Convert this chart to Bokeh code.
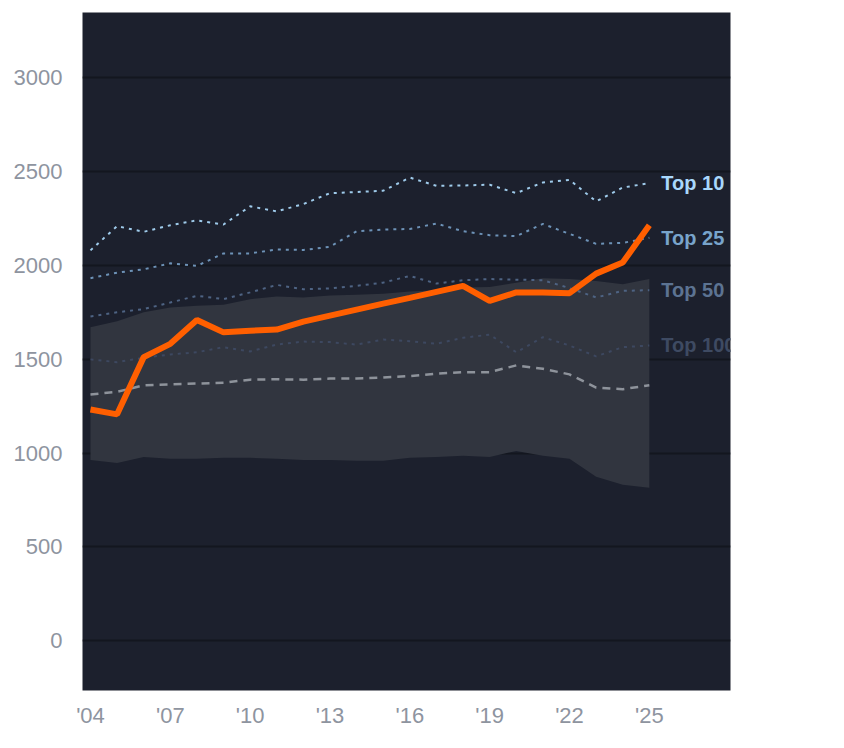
from bokeh.plotting import figure
from bokeh.models import FixedTicker, Label, Range1d
from bokeh.embed import file_html
from bokeh.resources import INLINE

years = list(range(2004, 2026))
main = [1233, 1207, 1512, 1583, 1710, 1644, 1653, 1659, 1701, 1733, 1765, 1797, 1828, 1860, 1892, 1812, 1857, 1857, 1853, 1957, 2016, 2215]
top10 = [2081, 2210, 2180, 2215, 2241, 2219, 2316, 2289, 2328, 2386, 2392, 2399, 2469, 2425, 2427, 2431, 2386, 2443, 2457, 2342, 2416, 2439]
top25 = [1933, 1962, 1980, 2012, 1998, 2065, 2065, 2086, 2083, 2100, 2183, 2192, 2195, 2224, 2183, 2162, 2157, 2222, 2169, 2116, 2121, 2148]
top50 = [1729, 1751, 1768, 1803, 1839, 1821, 1857, 1897, 1874, 1878, 1892, 1909, 1945, 1904, 1922, 1928, 1925, 1922, 1880, 1830, 1865, 1869]
top100 = [1500, 1485, 1509, 1526, 1538, 1565, 1542, 1579, 1595, 1592, 1579, 1606, 1597, 1583, 1615, 1632, 1538, 1618, 1574, 1516, 1565, 1574]
median = [1313, 1327, 1362, 1367, 1371, 1376, 1392, 1394, 1392, 1398, 1398, 1403, 1411, 1424, 1432, 1432, 1468, 1450, 1420, 1350, 1341, 1362]
band_hi = [1671, 1703, 1751, 1777, 1786, 1791, 1821, 1835, 1830, 1840, 1845, 1850, 1862, 1868, 1883, 1886, 1909, 1933, 1928, 1918, 1901, 1928]
band_lo = [964, 948, 980, 970, 970, 975, 975, 970, 964, 964, 959, 959, 975, 980, 986, 980, 1012, 986, 970, 874, 832, 816]
x_ticks = [2004, 2007, 2010, 2013, 2016, 2019, 2022, 2025]
y_ticks = [0, 500, 1000, 1500, 2000, 2500, 3000]

p = figure(width=800, height=730, output_backend="svg", toolbar_location=None,
           x_range=Range1d(2003.7, 2028.05), y_range=Range1d(-265, 3349),
           min_border_left=82, min_border_right=70, min_border_top=12, min_border_bottom=36)
p.background_fill_color = "#1c202d"
p.border_fill_color = "white"
p.outline_line_color = None
p.xgrid.grid_line_color = None
p.ygrid.grid_line_color = "#13161f"
p.ygrid.grid_line_width = 2
for ax in (p.xaxis, p.yaxis):
    ax.axis_line_color = None
    ax.major_tick_line_color = None
    ax.minor_tick_line_color = None
    ax.major_label_text_color = "#8e949f"
    ax.major_label_text_font = "Liberation Sans"
    ax.major_label_text_font_size = "22px"
p.yaxis.ticker = FixedTicker(ticks=y_ticks)
p.xaxis.ticker = FixedTicker(ticks=x_ticks)
p.xaxis.major_label_overrides = {t: "'" + str(t)[2:] for t in x_ticks}
p.xaxis.major_label_standoff = 6
p.yaxis.major_label_standoff = 14

p.varea(x=years, y1=band_lo, y2=band_hi, fill_color="#31353f", fill_alpha=1)
p.line(years, median, line_color="#8e939b", line_width=2.5, line_dash="8 6")
p.line(years, top100, line_color="#3d4860", line_width=2, line_dash="3 5")
p.line(years, top50, line_color="#4e6383", line_width=2, line_dash="3 5")
p.line(years, top25, line_color="#6d92b7", line_width=2, line_dash="3 5")
p.line(years, top10, line_color="#9fcbeb", line_width=2, line_dash="3 5")
p.line(years, main, line_color="#ff5f00", line_width=6)

for name, series, col in [("Top 10", top10, "#a9d8fc"), ("Top 25", top25, "#78a4cb"),
                          ("Top 50", top50, "#5c7392"), ("Top 100", top100, "#3e4a62")]:
    p.add_layout(Label(x=years[-1] + 0.45, y=series[-1], text=name, text_color=col,
                       text_font="Liberation Sans", text_font_style="bold",
                       text_font_size="20px", text_baseline="middle"))

open("out.html", "w").write(file_html(p, INLINE))
